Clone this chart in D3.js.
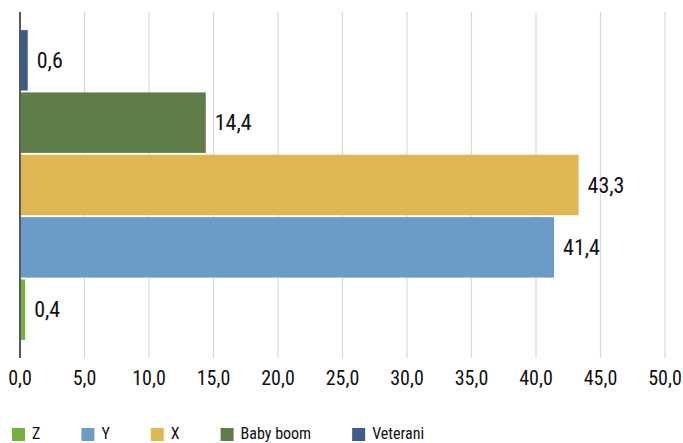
<!DOCTYPE html>
<html><head><meta charset="utf-8">
<script src="https://cdn.jsdelivr.net/npm/d3@7"></script>
<style>
html,body{margin:0;padding:0;background:#fff;}
svg{display:block;}
text{font-family:"Liberation Sans Narrow","Roboto Condensed","DejaVu Sans Condensed","Liberation Sans",sans-serif;fill:#111;}
</style></head>
<body>
<script>
const categories = ["Veterani", "Baby boom", "X", "Y", "Z"];
const values = [0.6, 14.4, 43.3, 41.4, 0.4];
const colors = ["#3F5B8B", "#5E7D48", "#E0B853", "#6B9CC7", "#73B23D"];
const legendOrder = ["Z", "Y", "X", "Baby boom", "Veterani"];
const ticks = [0, 5, 10, 15, 20, 25, 30, 35, 40, 45, 50];

const W = 683, H = 443;
const svg = d3.select("body").append("svg").attr("width", W).attr("height", H);
const fmt = v => d3.format(".1f")(v).replace(".", ",");

const x = d3.scaleLinear().domain([0, 50]).range([20, 665]);
const y = d3.scaleBand().domain(categories).range([12, 358]).paddingInner(0.03).paddingOuter(0.29);

// gridlines
svg.append("g").selectAll("line").data(ticks.slice(1)).join("line")
  .attr("x1", d => x(d)).attr("x2", d => x(d)).attr("y1", 12).attr("y2", 358)
  .attr("stroke", "#d9d9d9").attr("stroke-width", 1.2);

// bars
svg.append("g").selectAll("rect").data(categories).join("rect")
  .attr("x", x(0)).attr("y", d => y(d))
  .attr("width", (d, i) => x(values[i]) - x(0))
  .attr("height", y.bandwidth())
  .attr("fill", (d, i) => colors[i]);

// axis line
svg.append("line").attr("x1", x(0)).attr("x2", x(0)).attr("y1", 12).attr("y2", 358)
  .attr("stroke", "#595959").attr("stroke-width", 2);

// value labels
svg.append("g").selectAll("text").data(categories).join("text")
  .attr("x", (d, i) => x(values[i]) + 9)
  .attr("y", d => y(d) + y.bandwidth() / 2)
  .attr("dy", "0.35em")
  .attr("font-size", 22)
  .text((d, i) => fmt(values[i]));

// tick labels
svg.append("g").selectAll("text").data(ticks).join("text")
  .attr("x", d => x(d)).attr("y", 385)
  .attr("text-anchor", "middle").attr("font-size", 20)
  .text(d => fmt(d));

// legend
const lg = svg.append("g");
let lx = 12;
legendOrder.forEach(name => {
  const i = categories.indexOf(name);
  const g = lg.append("g").attr("transform", `translate(${lx},0)`);
  g.append("rect").attr("x", 0).attr("y", 428).attr("width", 13).attr("height", 13).attr("fill", colors[i]);
  const t = g.append("text").attr("x", 20).attr("y", 439).attr("font-size", 16).text(name);
  lx += 20 + t.node().getComputedTextLength() + 41;
});
</script>
</body></html>
